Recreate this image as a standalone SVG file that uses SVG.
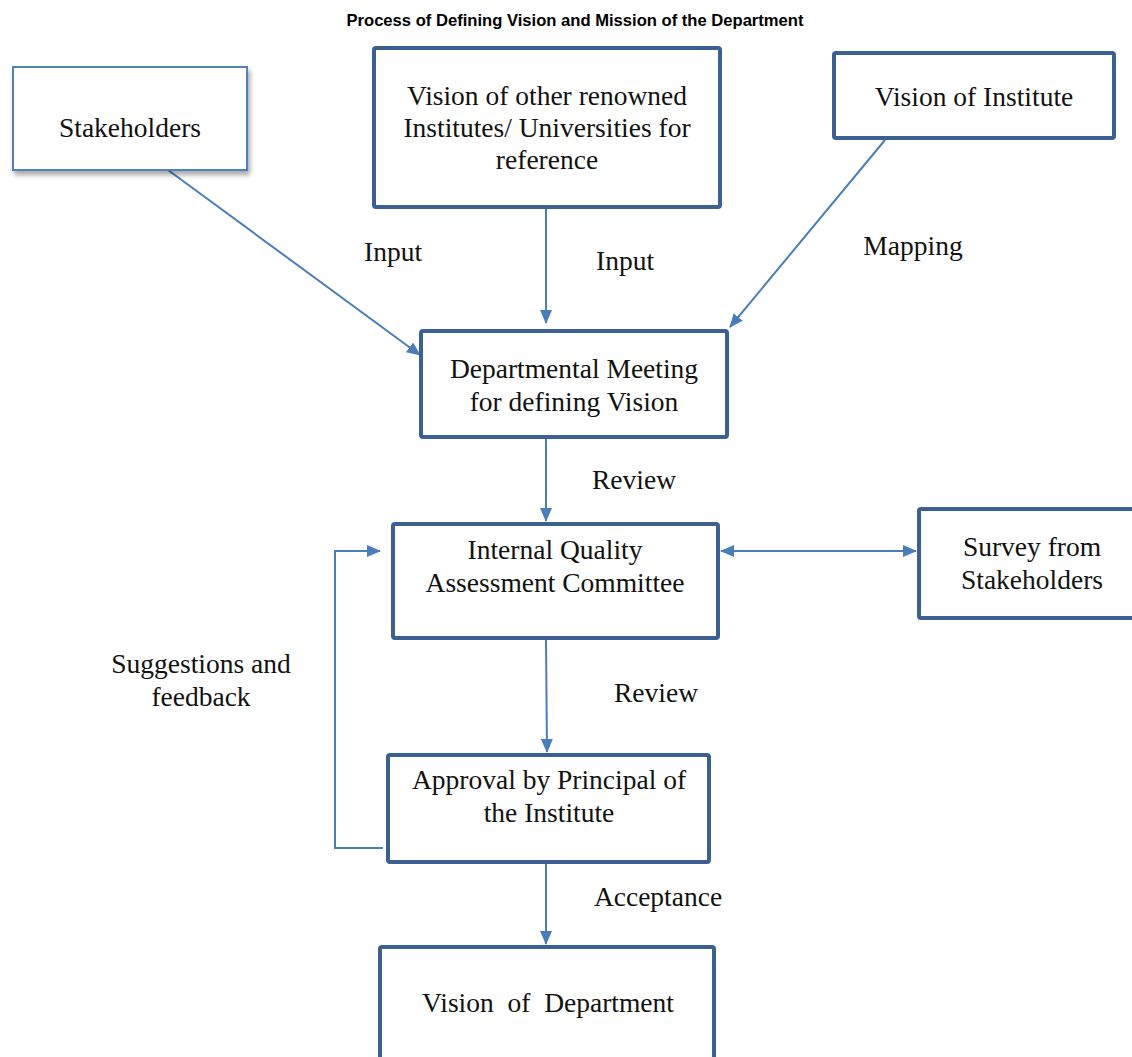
<svg xmlns="http://www.w3.org/2000/svg" width="1132" height="1057" viewBox="0 0 1132 1057">
<style>
.box{fill:#fff;stroke:#3C6090;stroke-width:4;}
.thin{fill:#fff;stroke:#4F81BD;stroke-width:2;}
.t{font-family:"Liberation Serif","Times New Roman",serif;font-size:27.5px;fill:#111;text-anchor:middle;}
.title{font-family:"Liberation Sans",Arial,sans-serif;font-size:16.6px;font-weight:bold;fill:#000;text-anchor:middle;}
.c{fill:none;stroke:#4A7EBB;stroke-width:2;}
</style>
<defs>
<marker id="ah" markerUnits="userSpaceOnUse" markerWidth="14" markerHeight="12" refX="13" refY="6" orient="auto-start-reverse">
<path d="M0,0 L14,6 L0,12 Z" fill="#4A7EBB"/>
</marker>
<filter id="sh" x="-10%" y="-10%" width="130%" height="140%">
<feDropShadow dx="2" dy="4" stdDeviation="2.5" flood-color="#000" flood-opacity="0.35"/>
</filter>
</defs>
<rect width="1132" height="1057" fill="#fff"/>
<text class="title" x="575" y="26">Process of Defining Vision and Mission of the Department</text>

<g id="connectors">
<line class="c" x1="168" y1="170" x2="420" y2="355" marker-end="url(#ah)"/>
<line class="c" x1="546" y1="208" x2="546" y2="323" marker-end="url(#ah)"/>
<line class="c" x1="885" y1="140" x2="730" y2="327" marker-end="url(#ah)"/>
<line class="c" x1="546" y1="438" x2="546" y2="521" marker-end="url(#ah)"/>
<line class="c" x1="721" y1="551" x2="916" y2="551" marker-start="url(#ah)" marker-end="url(#ah)"/>
<line class="c" x1="546" y1="640" x2="547" y2="752" marker-end="url(#ah)"/>
<polyline class="c" points="383,848 335,848 335,551 380,551" marker-end="url(#ah)"/>
<line class="c" x1="546" y1="864" x2="546" y2="944" marker-end="url(#ah)"/>
<text class="t" x="393" y="261">Input</text>
<text class="t" x="625" y="270">Input</text>
<text class="t" x="913" y="255">Mapping</text>
<text class="t" x="634" y="489">Review</text>
<text class="t" x="656" y="702">Review</text>
<text class="t" x="658" y="906">Acceptance</text>
<text class="t" x="201" y="673">Suggestions and</text>
<text class="t" x="201" y="706">feedback</text>
</g>

<g id="stakeholders">
<rect class="thin" x="13" y="67" width="234" height="103" filter="url(#sh)"/>
<text class="t" x="130" y="137">Stakeholders</text>
</g>
<g id="vision-other">
<rect class="box" x="374" y="48" width="346" height="159" rx="2"/>
<text class="t" x="547" y="105">Vision of other renowned</text>
<text class="t" x="547" y="137">Institutes/ Universities for</text>
<text class="t" x="547" y="169">reference</text>
</g>
<g id="vision-institute">
<rect class="box" x="834" y="53" width="280" height="85" rx="2"/>
<text class="t" x="974" y="106">Vision of Institute</text>
</g>
<g id="dept-meeting">
<rect class="box" x="421" y="331" width="306" height="106" rx="2"/>
<text class="t" x="574" y="378">Departmental Meeting</text>
<text class="t" x="574" y="411">for defining Vision</text>
</g>
<g id="iqac">
<rect class="box" x="393" y="524" width="325" height="114" rx="2"/>
<text class="t" x="555" y="559">Internal Quality</text>
<text class="t" x="555" y="592">Assessment Committee</text>
</g>
<g id="survey">
<rect class="box" x="919" y="509" width="216" height="109" rx="2"/>
<text class="t" x="1032" y="556">Survey from</text>
<text class="t" x="1032" y="589">Stakeholders</text>
</g>
<g id="approval">
<rect class="box" x="388" y="755" width="321" height="107" rx="2"/>
<text class="t" x="549" y="789">Approval by Principal of</text>
<text class="t" x="549" y="822">the Institute</text>
</g>
<g id="vision-dept">
<rect class="box" x="380" y="947" width="334" height="120" rx="2"/>
<text class="t" x="548" y="1012" xml:space="preserve">Vision  of  Department</text>
</g>
</svg>
